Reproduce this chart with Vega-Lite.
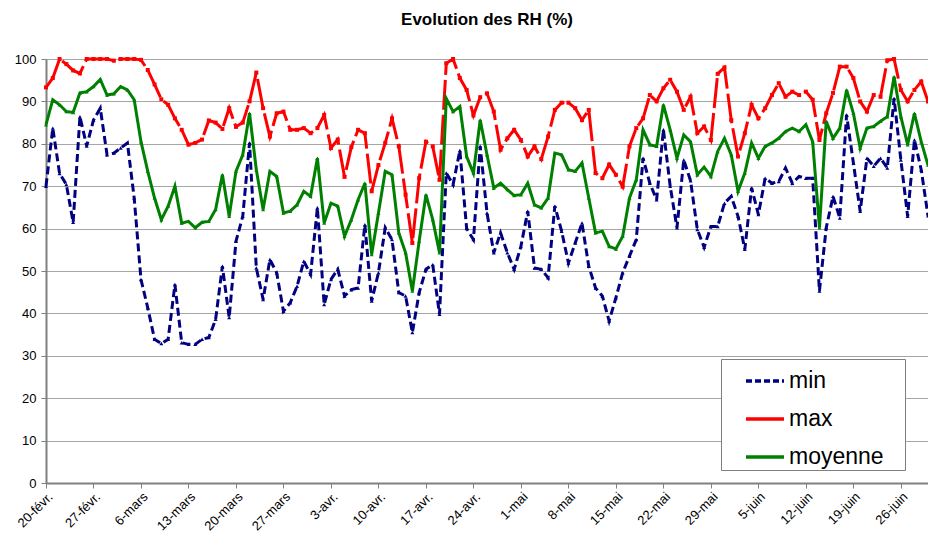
{
  "$schema": "https://vega.github.io/schema/vega-lite/v6.json",
  "width": 882,
  "height": 424,
  "autosize": {"type": "none"},
  "padding": {"left": 46, "top": 59, "right": 0, "bottom": 58},
  "background": "white",
  "title": {"text": "Evolution des RH (%)", "font": "Liberation Sans", "fontSize": 17, "fontWeight": "bold", "color": "black", "anchor": "middle", "baseline": "alphabetic", "offset": 11},
  "data": {"values": [
    {"d":"2011-02-20","min":70,"max":93.3,"moyenne":84.5},
    {"d":"2011-02-21","min":83.7,"max":95.5,"moyenne":90.4},
    {"d":"2011-02-22","min":73,"max":100,"moyenne":89.2},
    {"d":"2011-02-23","min":70.4,"max":98.8,"moyenne":87.6},
    {"d":"2011-02-24","min":61.5,"max":97.3,"moyenne":87.4},
    {"d":"2011-02-25","min":86.4,"max":96.6,"moyenne":92},
    {"d":"2011-02-26","min":79.5,"max":100,"moyenne":92.3},
    {"d":"2011-02-27","min":85.6,"max":100,"moyenne":93.5},
    {"d":"2011-02-28","min":88.4,"max":100,"moyenne":95.2},
    {"d":"2011-03-01","min":77.4,"max":100,"moyenne":91.5},
    {"d":"2011-03-02","min":77.8,"max":99.6,"moyenne":91.8},
    {"d":"2011-03-03","min":79,"max":100,"moyenne":93.5},
    {"d":"2011-03-04","min":80.2,"max":100,"moyenne":92.7},
    {"d":"2011-03-05","min":67.2,"max":100,"moyenne":90.4},
    {"d":"2011-03-06","min":48,"max":99.8,"moyenne":80.5},
    {"d":"2011-03-07","min":41.3,"max":97.4,"moyenne":73.5},
    {"d":"2011-03-08","min":33.9,"max":94,"moyenne":67.2},
    {"d":"2011-03-09","min":32.9,"max":90.5,"moyenne":62.1},
    {"d":"2011-03-10","min":33.9,"max":89.2,"moyenne":65.3},
    {"d":"2011-03-11","min":46.8,"max":86,"moyenne":70},
    {"d":"2011-03-12","min":33.1,"max":83.3,"moyenne":61.3},
    {"d":"2011-03-13","min":32.7,"max":79.8,"moyenne":61.7},
    {"d":"2011-03-14","min":32.7,"max":80.2,"moyenne":60.2},
    {"d":"2011-03-15","min":33.9,"max":81,"moyenne":61.5},
    {"d":"2011-03-16","min":34.3,"max":85.5,"moyenne":61.7},
    {"d":"2011-03-17","min":38.6,"max":85,"moyenne":64.5},
    {"d":"2011-03-18","min":51.1,"max":83.5,"moyenne":72.7},
    {"d":"2011-03-19","min":39,"max":88.4,"moyenne":62.9},
    {"d":"2011-03-20","min":57,"max":84,"moyenne":73.5},
    {"d":"2011-03-21","min":62.9,"max":85,"moyenne":77.4},
    {"d":"2011-03-22","min":80.2,"max":90,"moyenne":87.2},
    {"d":"2011-03-23","min":50.7,"max":96.8,"moyenne":73.9},
    {"d":"2011-03-24","min":43.3,"max":88.4,"moyenne":64.5},
    {"d":"2011-03-25","min":52.7,"max":81.7,"moyenne":73.5},
    {"d":"2011-03-26","min":49.6,"max":87.2,"moyenne":72.3},
    {"d":"2011-03-27","min":40.5,"max":87.6,"moyenne":63.7},
    {"d":"2011-03-28","min":42.5,"max":83.3,"moyenne":64.1},
    {"d":"2011-03-29","min":46.4,"max":83.3,"moyenne":65.6},
    {"d":"2011-03-30","min":52.3,"max":83.7,"moyenne":68.8},
    {"d":"2011-03-31","min":49.2,"max":82.5,"moyenne":67.6},
    {"d":"2011-04-01","min":64.9,"max":83.7,"moyenne":76.6},
    {"d":"2011-04-02","min":42.1,"max":86.8,"moyenne":61.3},
    {"d":"2011-04-03","min":48,"max":79,"moyenne":66},
    {"d":"2011-04-04","min":50.4,"max":81,"moyenne":65.3},
    {"d":"2011-04-05","min":44.1,"max":72.2,"moyenne":58.2},
    {"d":"2011-04-06","min":45.6,"max":79.2,"moyenne":62.1},
    {"d":"2011-04-07","min":46,"max":83.3,"moyenne":66.8},
    {"d":"2011-04-08","min":60.9,"max":82.5,"moyenne":70.7},
    {"d":"2011-04-09","min":42.9,"max":68.8,"moyenne":53.9},
    {"d":"2011-04-10","min":49.6,"max":75,"moyenne":63.7},
    {"d":"2011-04-11","min":60.2,"max":80.2,"moyenne":73.5},
    {"d":"2011-04-12","min":57.4,"max":86,"moyenne":72.7},
    {"d":"2011-04-13","min":44.9,"max":79.4,"moyenne":59},
    {"d":"2011-04-14","min":44.1,"max":68,"moyenne":54.3},
    {"d":"2011-04-15","min":35.5,"max":56.6,"moyenne":45.3},
    {"d":"2011-04-16","min":44.9,"max":71.9,"moyenne":57},
    {"d":"2011-04-17","min":50.4,"max":80.5,"moyenne":68},
    {"d":"2011-04-18","min":51.5,"max":79.4,"moyenne":62.1},
    {"d":"2011-04-19","min":39.8,"max":71.5,"moyenne":54.3},
    {"d":"2011-04-20","min":73.1,"max":99,"moyenne":90.7},
    {"d":"2011-04-21","min":70.4,"max":100,"moyenne":87.6},
    {"d":"2011-04-22","min":78.4,"max":95.5,"moyenne":88.8},
    {"d":"2011-04-23","min":60,"max":92.7,"moyenne":77},
    {"d":"2011-04-24","min":57.4,"max":86.7,"moyenne":73.1},
    {"d":"2011-04-25","min":79.4,"max":91,"moyenne":85.6},
    {"d":"2011-04-26","min":63.7,"max":91.9,"moyenne":77.4},
    {"d":"2011-04-27","min":54.3,"max":87.6,"moyenne":69.6},
    {"d":"2011-04-28","min":59,"max":78.6,"moyenne":70.7},
    {"d":"2011-04-29","min":54.3,"max":81.3,"moyenne":69.2},
    {"d":"2011-04-30","min":50.4,"max":83.3,"moyenne":67.8},
    {"d":"2011-05-01","min":55.8,"max":80.9,"moyenne":68},
    {"d":"2011-05-02","min":64.1,"max":77,"moyenne":70.7},
    {"d":"2011-05-03","min":50.7,"max":79.4,"moyenne":65.6},
    {"d":"2011-05-04","min":50.4,"max":76.4,"moyenne":64.9},
    {"d":"2011-05-05","min":48.4,"max":81.7,"moyenne":67.2},
    {"d":"2011-05-06","min":65.3,"max":88,"moyenne":77.8},
    {"d":"2011-05-07","min":59.4,"max":89.7,"moyenne":77.4},
    {"d":"2011-05-08","min":51.9,"max":89.7,"moyenne":73.9},
    {"d":"2011-05-09","min":56.6,"max":88.4,"moyenne":73.5},
    {"d":"2011-05-10","min":61.3,"max":85.6,"moyenne":75.5},
    {"d":"2011-05-11","min":51.1,"max":88,"moyenne":67.2},
    {"d":"2011-05-12","min":46,"max":73.1,"moyenne":59},
    {"d":"2011-05-13","min":44.1,"max":71.9,"moyenne":59.4},
    {"d":"2011-05-14","min":38.2,"max":75.1,"moyenne":55.8},
    {"d":"2011-05-15","min":43.7,"max":72.7,"moyenne":55.2},
    {"d":"2011-05-16","min":49.6,"max":69.9,"moyenne":58.2},
    {"d":"2011-05-17","min":53.5,"max":79.4,"moyenne":67.2},
    {"d":"2011-05-18","min":57.4,"max":83.7,"moyenne":71.5},
    {"d":"2011-05-19","min":76.6,"max":86,"moyenne":83.3},
    {"d":"2011-05-20","min":70.7,"max":91.5,"moyenne":79.8},
    {"d":"2011-05-21","min":66.8,"max":90,"moyenne":79.4},
    {"d":"2011-05-22","min":83.3,"max":93.1,"moyenne":89.2},
    {"d":"2011-05-23","min":70,"max":95.1,"moyenne":83.3},
    {"d":"2011-05-24","min":60.2,"max":92.3,"moyenne":76.6},
    {"d":"2011-05-25","min":76.2,"max":88,"moyenne":82.1},
    {"d":"2011-05-26","min":71.3,"max":91.1,"moyenne":80.5},
    {"d":"2011-05-27","min":59.8,"max":82.5,"moyenne":72.7},
    {"d":"2011-05-28","min":55.6,"max":84.1,"moyenne":74.5},
    {"d":"2011-05-29","min":60.5,"max":80.9,"moyenne":72.3},
    {"d":"2011-05-30","min":60.5,"max":96.5,"moyenne":78.2},
    {"d":"2011-05-31","min":66,"max":98,"moyenne":81.3},
    {"d":"2011-06-01","min":67.6,"max":85.6,"moyenne":77.4},
    {"d":"2011-06-02","min":62.9,"max":77,"moyenne":68.8},
    {"d":"2011-06-03","min":55.1,"max":82.5,"moyenne":73.1},
    {"d":"2011-06-04","min":69.6,"max":89.2,"moyenne":80.2},
    {"d":"2011-06-05","min":63.3,"max":86,"moyenne":76.6},
    {"d":"2011-06-06","min":71.9,"max":88.4,"moyenne":79.4},
    {"d":"2011-06-07","min":70.7,"max":91.5,"moyenne":80.2},
    {"d":"2011-06-08","min":71.1,"max":94.3,"moyenne":81.3},
    {"d":"2011-06-09","min":74.3,"max":91.1,"moyenne":82.9},
    {"d":"2011-06-10","min":70.7,"max":92.3,"moyenne":83.7},
    {"d":"2011-06-11","min":72.3,"max":91.5,"moyenne":82.9},
    {"d":"2011-06-12","min":71.9,"max":92.3,"moyenne":84.5},
    {"d":"2011-06-13","min":71.9,"max":90.4,"moyenne":80.5},
    {"d":"2011-06-14","min":45.3,"max":80.9,"moyenne":60.2},
    {"d":"2011-06-15","min":60.2,"max":87.2,"moyenne":85.3},
    {"d":"2011-06-16","min":67.6,"max":92,"moyenne":81.3},
    {"d":"2011-06-17","min":62.5,"max":98.2,"moyenne":83.7},
    {"d":"2011-06-18","min":86.8,"max":98.2,"moyenne":92.7},
    {"d":"2011-06-19","min":75.5,"max":95.5,"moyenne":87.2},
    {"d":"2011-06-20","min":64.1,"max":90,"moyenne":79},
    {"d":"2011-06-21","min":76.6,"max":87.6,"moyenne":83.7},
    {"d":"2011-06-22","min":74.7,"max":91.5,"moyenne":84.1},
    {"d":"2011-06-23","min":76.6,"max":91.1,"moyenne":85.3},
    {"d":"2011-06-24","min":74.3,"max":99.7,"moyenne":86.4},
    {"d":"2011-06-25","min":90.7,"max":100,"moyenne":95.8},
    {"d":"2011-06-26","min":76.2,"max":92.7,"moyenne":86.4},
    {"d":"2011-06-27","min":62.9,"max":90,"moyenne":79.8},
    {"d":"2011-06-28","min":80.9,"max":92.7,"moyenne":87.2},
    {"d":"2011-06-29","min":73.9,"max":94.7,"moyenne":80.5},
    {"d":"2011-06-30","min":63,"max":90,"moyenne":75}
  ]},
  "transform": [{"fold": ["min", "max", "moyenne"], "as": ["serie", "val"]}],
  "encoding": {
    "x": {
      "field": "d", "type": "temporal",
      "scale": {"type": "utc", "domain": [1298160000000, 1309392000000]},
      "axis": {
        "title": null,
        "values": [1298160000000, 1298764800000, 1299369600000, 1299974400000, 1300579200000, 1301184000000, 1301788800000, 1302393600000, 1302998400000, 1303603200000, 1304208000000, 1304812800000, 1305417600000, 1306022400000, 1306627200000, 1307232000000, 1307836800000, 1308441600000, 1309046400000],
        "labelExpr": "utcdate(datum.value) + '-' + ['janv.','févr.','mars','avr.','mai','juin','juil.'][utcmonth(datum.value)]",
        "labelAngle": -45,
        "labelAlign": "right",
        "labelBaseline": "top",
        "labelFont": "Liberation Sans",
        "labelFontSize": 13,
        "labelColor": "black",
        "labelPadding": 2,
        "labelOverlap": false,
        "grid": false,
        "domainColor": "#808080",
        "domainWidth": 2,
        "tickColor": "#808080",
        "tickSize": 5
      }
    },
    "y": {
      "field": "val", "type": "quantitative",
      "scale": {"domain": [0, 100], "nice": false, "zero": true},
      "axis": {
        "title": null,
        "values": [0, 10, 20, 30, 40, 50, 60, 70, 80, 90, 100],
        "labelFont": "Liberation Sans",
        "labelFontSize": 13,
        "labelColor": "black",
        "labelPadding": 5,
        "grid": true,
        "gridColor": "#a6a6a6",
        "gridWidth": 1.2,
        "domainColor": "#808080",
        "domainWidth": 2,
        "tickColor": "#808080",
        "tickSize": 5
      }
    },
    "color": {
      "field": "serie", "type": "nominal",
      "scale": {"domain": ["min", "max", "moyenne"], "range": ["#000080", "#FF0000", "#008000"]},
      "legend": {
        "title": " ",
        "titleOrient": "right",
        "titlePadding": 20,
        "titleFontSize": 10,
        "orient": "none",
        "legendX": 675,
        "legendY": 300,
        "fillColor": "white",
        "strokeColor": "#808080",
        "padding": 1,
        "symbolOffset": 22,
        "symbolType": "stroke",
        "symbolSize": 1444,
        "symbolStrokeWidth": 3.5,
        "labelFont": "Liberation Sans",
        "labelFontSize": 23,
        "labelColor": "black",
        "labelOffset": 3,
        "rowPadding": 5,
        "encode": {"symbols": {"update": {"strokeDash": {"signal": "datum.value === 'min' ? [6, 3] : [1, 0]"}}}}
      }
    }
  },
  "layer": [
    {
      "transform": [{"filter": "datum.serie === 'min'"}],
      "mark": {"type": "line", "strokeWidth": 3, "strokeDash": [8, 4]}
    },
    {
      "transform": [{"filter": "datum.serie === 'max'"}],
      "mark": {"type": "line", "strokeWidth": 3, "strokeDash": [30, 5]}
    },
    {
      "transform": [{"filter": "datum.serie === 'moyenne'"}],
      "mark": {"type": "line", "strokeWidth": 3}
    },
    {
      "transform": [{"filter": "datum.serie === 'min'"}],
      "mark": {"type": "point", "shape": "triangle-up", "filled": true, "size": 16, "opacity": 1}
    },
    {
      "transform": [{"filter": "datum.serie === 'max'"}],
      "mark": {"type": "point", "shape": "square", "filled": true, "size": 16, "opacity": 1}
    },
    {
      "transform": [{"filter": "datum.serie === 'moyenne'"}],
      "mark": {"type": "point", "shape": "triangle-up", "filled": true, "size": 16, "opacity": 1}
    }
  ],
  "config": {
    "view": {"stroke": null},
    "font": "Liberation Sans"
  }
}
